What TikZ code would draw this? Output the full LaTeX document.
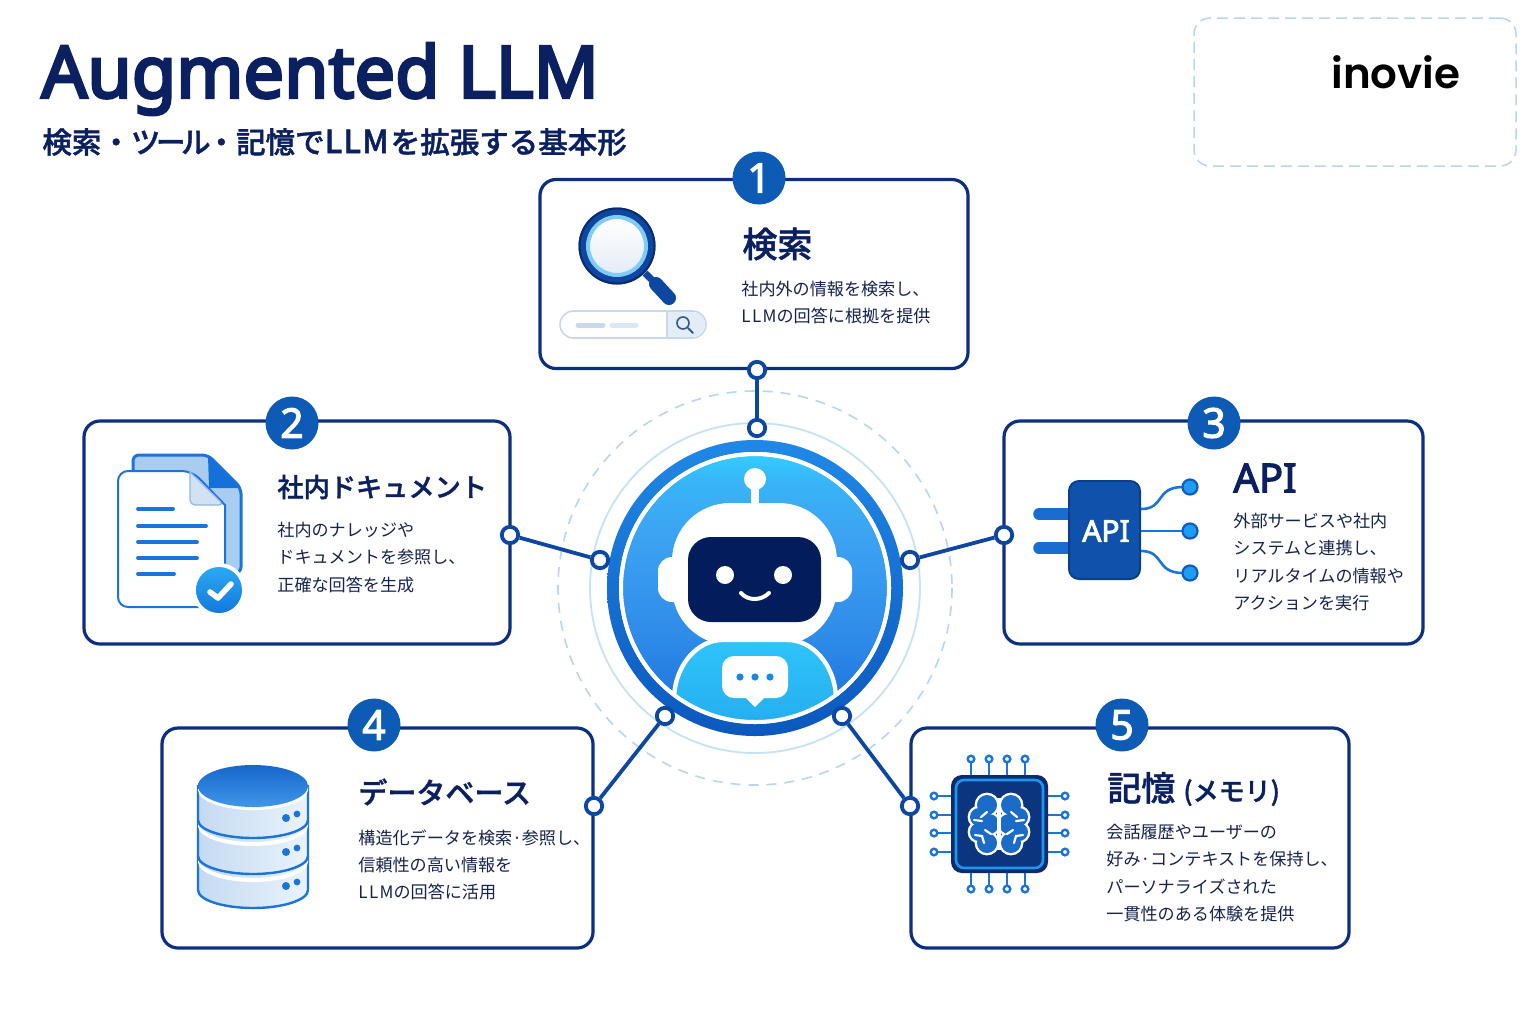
\documentclass[tikz,border=0pt]{standalone}
\usepackage{fontspec}
\setmainfont{Noto Sans CJK JP}
\newfontfamily\jpm[FakeBold=1.3]{Noto Sans CJK JP Medium}
\newfontfamily\nsans[FakeBold=2.8]{Noto Sans}
\newfontfamily\nsanst[FakeBold=4]{Noto Sans}
\newfontfamily\pops{Poppins SemiBold}
\usetikzlibrary{shapes.geometric}
\newcommand{\hexc}[1]{\definecolor{#1}{HTML}{#1}}
\hexc{1A6FDC}\hexc{2E8AE8}\hexc{3CA3F2}\hexc{38B4F8}\hexc{33CCFF}\hexc{0C58BE}\hexc{2088E6}\hexc{2FC4FA}\hexc{22A8EE}\hexc{61BFF5}\hexc{C5D8EE}\hexc{E4ECF6}\hexc{C8D8EA}\hexc{DCE6F2}\hexc{2D5A94}\hexc{A9CDF0}\hexc{1570D9}\hexc{8DB8E8}\hexc{D3E2F3}\hexc{2DA8F2}\hexc{1279DE}\hexc{1A6DD0}\hexc{0A3F8F}\hexc{0F52AB}\hexc{0D5CC0}\hexc{1E9CF2}\hexc{0A2C6E}\hexc{1E96EE}\hexc{0C357F}\hexc{1A6CC8}\hexc{C4DAF2}\hexc{EAF3FC}\hexc{1766CB}\hexc{3F97E8}
\definecolor{navy}{HTML}{0C2F7E}
\definecolor{ink}{HTML}{0A2060}
\definecolor{txt}{HTML}{14234F}
\definecolor{portc}{HTML}{0D47A1}
\definecolor{badgec}{HTML}{0D5BB5}
\definecolor{ringlt}{HTML}{C4E2F8}
\definecolor{dashlt}{HTML}{B5D6F4}
\definecolor{iconb}{HTML}{1A74DC}
\definecolor{screen}{HTML}{021C5C}
\pgfdeclareverticalshading{orbin}{100bp}{color(0bp)=(1A6FDC);color(25bp)=(1A6FDC);color(40bp)=(2E8AE8);color(60bp)=(3CA3F2);color(70bp)=(38B4F8);color(75bp)=(33CCFF);color(100bp)=(33CCFF)}
\pgfdeclareverticalshading{orbout}{100bp}{color(0bp)=(0C58BE);color(25bp)=(0C58BE);color(75bp)=(2088E6);color(100bp)=(2088E6)}
\newcommand{\LLMw}{{\addfontfeature{LetterSpace=8}LLM}}
\newcommand{\dbtier}[2]{%
  \path[draw=iconb,line width=1.2pt,left color=C4DAF2,right color=EAF3FC]
    (198,#1) -- (198,#2) .. controls (198,#2+10) and (223,#2+18) .. (253,#2+18) .. controls (283,#2+18) and (308,#2+10) .. (308,#2) -- (308,#1) -- cycle;
  \fill[white] (198,#1) .. controls (198,#1+11) and (223,#1+20) .. (253,#1+20) .. controls (283,#1+20) and (308,#1+11) .. (308,#1) -- (308,#1+4) .. controls (308,#1+15) and (283,#1+24) .. (253,#1+24) .. controls (223,#1+24) and (198,#1+15) .. (198,#1+4) -- cycle;
}
\tikzset{
  x=0.5pt,y=-0.5pt,
  card/.style={draw=navy,line width=1.6pt,fill=white,rounded corners=8pt,inner sep=0pt},
  port/.style={circle,draw=portc,line width=1.9pt,fill=white,minimum size=8.2pt,inner sep=0pt},
  conn/.style={draw=portc,line width=1.9pt},
  badge/.style={circle,fill=badgec,minimum size=26.5pt,inner sep=0pt,text=white,font=\nsans\fontsize{20.5}{20}\selectfont},
  head/.style={anchor=west,inner sep=0pt,text=ink,font=\jpm\fontsize{14.5}{16}\selectfont},
  body/.style={anchor=west,inner sep=0pt,align=left,text=txt,font=\fontsize{8.55}{13.65}\selectfont},
  pin/.style={draw=iconb,line width=1.2pt,fill=white},
}
\begin{document}
\begin{tikzpicture}
\useasboundingbox (0,0) rectangle (1536,1024);
\fill[white] (0,0) rectangle (1536,1024);
% titles
\node[anchor=west,inner sep=0pt,text=ink,font=\nsanst\fontsize{36}{40}\selectfont] (ttl) at (41,79) {Augmented LLM};
\node[anchor=west,inner sep=0pt,text=ink,font=\jpm\fontsize{14.75}{18}\selectfont] (sub) at (42,142) {検索・ツ\hspace{-2.2pt}ー\hspace{-2.2pt}ル\hspace{-2pt}・記憶で{\fontsize{16}{18}\selectfont\addfontfeature{LetterSpace=3}LLM}\hspace{1pt}を拡張する基本形};
% logo box
\node[draw=dashlt,line width=0.75pt,dash pattern=on 5.5pt off 3pt,rounded corners=8pt,minimum width=161pt,minimum height=74pt,inner sep=0pt] (logobox) at (1355,92) {};
\node[inner sep=0pt,text=black,font=\pops\fontsize{21}{24}\selectfont] (logo) at (1396,72) {inovie};
% orb
\draw[dashlt,line width=0.8pt,dash pattern=on 5pt off 4pt] (755,588) circle[radius=197];
\draw[ringlt,line width=0.9pt] (755,588) circle[radius=165];
\shade[shading=orbout] (755,588) circle[radius=148];
\fill[white] (755,588) circle[radius=136];
\shade[shading=orbin] (755,588) circle[radius=132];
% robot
\draw[white,line width=4pt] (755,479) -- (755,510);
\fill[white] (755,479) circle[radius=11];
\fill[white,rounded corners=7pt] (658,557) rectangle (695,602);
\fill[white,rounded corners=7pt] (815,557) rectangle (852,602);
\fill[white,rounded corners=29pt] (672,503) rectangle (837,645);
\fill[screen,rounded corners=11.5pt] (688,537) rectangle (821,622);
\fill[white] (725,575) circle[radius=9];
\fill[white] (783,575) circle[radius=9];
\draw[white,line width=2pt,line cap=round] (741,593) .. controls (748,601) and (761,601) .. (769,593);
\begin{scope}
\clip (755,588) circle[radius=134];
\path[draw=white,line width=2.2pt,top color=2FC4FA,bottom color=22A8EE] (674,745) -- (674,700) .. controls (674,665) and (698,640) .. (722,640) -- (788,640) .. controls (812,640) and (836,665) .. (836,700) -- (836,745) -- cycle;
\end{scope}
\draw[white,line width=2pt] (755,588) circle[radius=134];
\fill[white,rounded corners=6pt] (722,656) rectangle (788,698);
\fill[white] (745,697) -- (765,697) -- (755,707) -- cycle;
\foreach \dx in {740,755,770} \fill[iconb!85!cyan] (\dx,677) circle[radius=3.6];
% cards
\node[card,minimum width=214pt,minimum height=94.5pt] (c1) at (754,274) {};
\node[card,minimum width=213pt,minimum height=111.5pt] (c2) at (297,532.5) {};
\node[card,minimum width=209.5pt,minimum height=111.5pt] (c3) at (1213.5,532.5) {};
\node[card,minimum width=215.5pt,minimum height=110pt] (c4) at (377.5,838) {};
\node[card,minimum width=219pt,minimum height=110pt] (c5) at (1130,838) {};
% badges
\node[badge] (b1) at (759,178) {1};
\node[badge] (b2) at (292,423) {2};
\node[badge] (b3) at (1214,423) {3};
\node[badge] (b4) at (374,725) {4};
\node[badge] (b5) at (1122,725) {5};
% card text
\node[head,font=\jpm\fontsize{17.5}{20}\selectfont] (t1) at (742,244) {検索};
\node[body] (d1) at (741,302.5) {社内外の情報を検索し、\\\LLMw の回答に根拠を提供};
\node[head,font=\jpm\fontsize{13.1}{16}\selectfont] (t2) at (277,487) {社内ドキュメント};
\node[body] (d2) at (277,557.5) {社内のナレッジや\\ドキュメントを参照し、\\正確な回答を生成};
\node[head,font=\nsans\fontsize{20}{22}\selectfont] (t3) at (1233,478) {API};
\node[body] (d3) at (1233,562) {外部サービスや社内\\システムと連携し、\\リアルタイムの情報や\\アクションを実行};
\node[head] (t4) at (358,792) {データベース};
\node[body] (d4) at (358,865) {構造化データを検索·参照し、\\信頼性の高い情報を\\\LLMw の回答に活用};
\node[head,font=\jpm\fontsize{17}{20}\selectfont] (t5) at (1107,789) {記憶\hspace{4pt}{\fontsize{13}{16}\selectfont (メモリ)}};
\node[body] (d5) at (1106,873) {会話履歴やユーザーの\\好み·コンテキストを保持し、\\パーソナライズされた\\一貫性のある体験を提供};
% magnifier
\path[top color=white,bottom color=E4ECF6] (617,246) circle[radius=28];
\draw[portc,line width=3.5pt] (645,273) -- (654,282);
\draw[portc,line width=7pt,line cap=round] (656,284) -- (669,298);
\draw[portc,line width=4pt] (617,246) circle[radius=34.5];
\draw[0A2C6E,line width=1pt] (617,246) circle[radius=37.5];
\draw[61BFF5!80!white,line width=2pt] (617,246) circle[radius=29];
% search bar
\draw[draw=C5D8EE,line width=0.8pt,fill=white,rounded corners=6.7pt] (560,311) rectangle (706,338);
\path[fill=E4ECF6,rounded corners=6.4pt] (668,312) rectangle (705,337);
\fill[E4ECF6] (668,312) rectangle (685,337);
\draw[C5D8EE,line width=0.8pt] (667,311) -- (667,338);
\draw[C8D8EA,line width=2.5pt,line cap=round] (578,325) -- (603,325);
\draw[DCE6F2,line width=2.5pt,line cap=round] (612,325) -- (636,325);
\draw[2D5A94,line width=0.8pt] (683,323) circle[radius=6];
\draw[2D5A94,line width=0.9pt,line cap=round] (688,328) -- (693,333);
% document icon
\draw[iconb,line width=1.5pt,fill=A9CDF0,rounded corners=3pt] (133,488) -- (133,455) -- (208,455) -- (241,488) -- (241,573) -- (133,573) -- cycle;
\fill[1570D9] (208,455) -- (241,488) -- (209,488) -- cycle;
\draw[iconb,line width=1pt,fill=white,rounded corners=5pt] (118,540) -- (118,471) -- (192,471) [sharp corners] -- (225,505) -- (225,607) [rounded corners=5pt] -- (118,607) -- cycle;
\draw[8DB8E8,line width=0.6pt,fill=D3E2F3,rounded corners=2.5pt] (190,472) -- (190,505) -- (224,505) [sharp corners] -- cycle;
\foreach \yy/\xe in {509/173,526/206,542/197,558/197,574/174}
  \draw[iconb,line width=1.9pt,line cap=round] (138,\yy) -- (\xe,\yy);
\fill[white] (219,590) circle[radius=27];
\path[top color=2DA8F2,bottom color=1279DE] (219,590) circle[radius=23];
\draw[white,line width=2.8pt,line cap=round,line join=round] (210,592) -- (218,598) -- (231,584);
% API icon
\foreach \yy in {514,548} {
  \draw[1A6DD0,line width=5.8pt,line cap=round] (1039,\yy) -- (1072,\yy);
}
\draw[0A3F8F,line width=1pt,fill=0F52AB,rounded corners=5pt] (1069,481) rectangle (1140,579);
\node[inner sep=0pt,text=white,font=\nsans\fontsize{15}{16}\selectfont] (apil) at (1106,531) {API};
\draw[iconb,line width=1.3pt] (1141,509) .. controls (1165,509) and (1155,487) .. (1183,487);
\draw[iconb,line width=1.3pt] (1141,531) -- (1183,531);
\draw[iconb,line width=1.3pt] (1141,551) .. controls (1165,551) and (1155,573) .. (1183,573);
\foreach \yy in {487,531,573}
  \draw[0D5CC0,line width=1.1pt,fill=1E9CF2] (1190,\yy) circle[radius=7.5];
% chip
\foreach \xx in {971,989,1007,1025} {
  \draw[iconb,line width=1.2pt] (\xx,775) -- (\xx,762);
  \draw[pin] (\xx,759) circle[radius=3.3];
  \draw[iconb,line width=1.2pt] (\xx,873) -- (\xx,886);
  \draw[pin] (\xx,889) circle[radius=3.3];
}
\foreach \yy in {796,815,833,852} {
  \draw[iconb,line width=1.2pt] (951,\yy) -- (938,\yy);
  \draw[pin] (934,\yy) circle[radius=3.3];
  \draw[iconb,line width=1.2pt] (1048,\yy) -- (1061,\yy);
  \draw[pin] (1065,\yy) circle[radius=3.3];
}
\fill[0A2C6E,rounded corners=5.5pt] (951,775) rectangle (1048,873);
\draw[1E96EE,line width=1.3pt,fill=0C357F,rounded corners=4pt] (956,780) rectangle (1043,868);
% brain
\foreach \sx in {-1,1} {
  \begin{scope}[shift={(999,824)},xscale=\sx]
    \foreach \cx/\cy/\rr in {12/-19/10,20/-7/9,20/8/9,12/19/10,10/0/10} \fill[white] (\cx,\cy) circle[radius=\rr+2.4];
  \end{scope}
}
\foreach \sx in {-1,1} {
  \begin{scope}[shift={(999,824)},xscale=\sx]
    \foreach \cx/\cy/\rr in {12/-19/10,20/-7/9,20/8/9,12/19/10,10/0/10} \fill[1A6CC8] (\cx,\cy) circle[radius=\rr];
    \draw[white,line width=1.1pt,line cap=round] (12,-12) -- (18,-7);
    \draw[white,line width=1.1pt,line cap=round] (25,-4) -- (17,-3);
    \draw[white,line width=1.1pt,line cap=round] (8,10) -- (14,6);
    \draw[white,line width=1.1pt,line cap=round] (24,11) -- (17,12) -- (15,19);
  \end{scope}
}
\draw[white,line width=2pt] (999,798) -- (999,850);
% database
\dbtier{858}{890}
\dbtier{822}{856}
\dbtier{786}{820}
\path[top color=1766CB,bottom color=3F97E8] (253,786) ellipse[x radius=55,y radius=21];
\foreach \yy in {0,34,68} {
  \fill[iconb] (286,818+\yy) circle[radius=4];
  \fill[iconb] (297,814+\yy) circle[radius=3.4];
}
% ports and connectors
\node[port] (p1a) at (757,370) {};
\node[port] (p1b) at (757,428) {};
\node[port] (p2a) at (510,535) {};
\node[port] (p2b) at (600,560) {};
\node[port] (p3a) at (1004,535) {};
\node[port] (p3b) at (910,560) {};
\node[port] (p4a) at (594,806) {};
\node[port] (p4b) at (665,716) {};
\node[port] (p5a) at (910,806) {};
\node[port] (p5b) at (842,716) {};
\draw[conn] (p1a) -- (p1b);
\draw[conn] (p2a) -- (p2b);
\draw[conn] (p3a) -- (p3b);
\draw[conn] (p4a) -- (p4b);
\draw[conn] (p5a) -- (p5b);
\end{tikzpicture}
\end{document}
